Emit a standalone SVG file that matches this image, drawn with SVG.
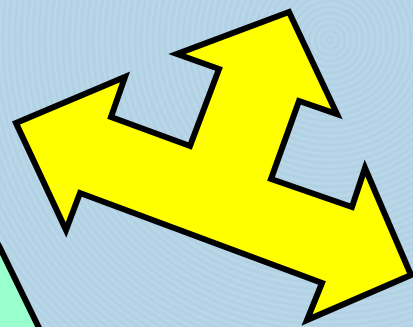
<svg xmlns="http://www.w3.org/2000/svg" width="413" height="327" viewBox="0 0 413 327">
  <defs>
    <radialGradient id="ripple" cx="330" cy="40" r="6" gradientUnits="userSpaceOnUse" spreadMethod="repeat">
      <stop offset="0" stop-color="#b9d9ea"/>
      <stop offset="0.5" stop-color="#b1d1e3"/>
      <stop offset="1" stop-color="#b9d9ea"/>
    </radialGradient>
    <style>
      .shape { stroke: #000; stroke-width: 6; stroke-linejoin: miter; stroke-miterlimit: 10; }
    </style>
  </defs>
  <rect id="background" x="0" y="0" width="413" height="327" fill="url(#ripple)"/>
  <g id="mint-shape">
    <polygon class="shape" fill="#99ffcc" points="-10,230 0,248 40,330 -10,330"/>
  </g>
  <g id="three-way-arrow">
    <polygon class="shape" fill="#ffff00" points="16,123 125,77 111,117 190,146 219,69 177,54 289,12 337,114 299,101 271,179 352,207 365,168 411,275 307,320 322,283 80,193 66,230"/>
  </g>
</svg>
